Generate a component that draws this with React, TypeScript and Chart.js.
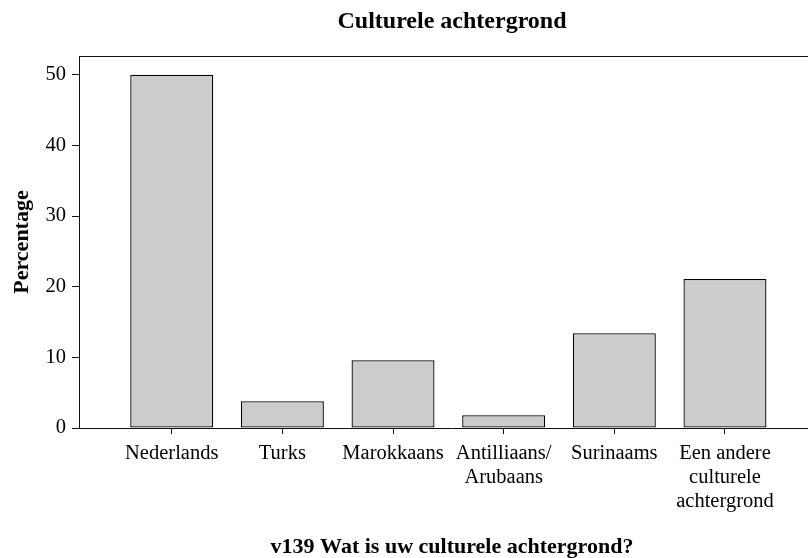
import React, { useEffect, useRef } from "react";
import { Chart, registerables } from "chart.js";

Chart.register(...registerables);

const chartTitle = "Culturele achtergrond";
const xAxisTitle = "v139 Wat is uw culturele achtergrond?";
const yAxisTitle = "Percentage";
const categories = [
  "Nederlands",
  "Turks",
  "Marokkaans",
  "Antilliaans/\nArubaans",
  "Surinaams",
  "Een andere\nculturele\nachtergrond",
];
const percentages = [50.0, 3.8, 9.6, 1.8, 13.4, 21.1];
const yTicks = [0, 10, 20, 30, 40, 50];

const FONT = '"Liberation Serif", "Times New Roman", serif';

const topFramePlugin = {
  id: "topFrame",
  afterDraw(chart: any) {
    const { ctx, chartArea } = chart;
    const y = Math.round(chartArea.top) + 0.5;
    ctx.save();
    ctx.strokeStyle = "#111";
    ctx.lineWidth = 1;
    ctx.beginPath();
    ctx.moveTo(chartArea.left, y);
    ctx.lineTo(chartArea.right, y);
    ctx.stroke();
    ctx.restore();
  },
};

export default function App() {
  const ref = useRef<HTMLCanvasElement | null>(null);

  useEffect(() => {
    if (!ref.current) return;
    const chart = new Chart(ref.current, {
      type: "bar",
      data: {
        datasets: [
          {
            data: percentages.map((v, i) => ({ x: i, y: v })),
            backgroundColor: "#cccccc",
            borderColor: "#000",
            borderWidth: 1.3,
            borderSkipped: false,
            barPercentage: 0.75,
            categoryPercentage: 1,
          },
        ],
      },
      options: {
        animation: false,
        responsive: false,
        layout: { padding: 0 },
        plugins: {
          legend: { display: false },
          tooltip: { enabled: false },
          title: {
            display: true,
            text: chartTitle,
            fullSize: false,
            color: "#000",
            font: { family: FONT, size: 24, weight: "bold", lineHeight: 1.2 },
            padding: { top: 7.5, bottom: 19.7 },
          },
        },
        scales: {
          x: {
            type: "linear",
            offset: false,
            min: -0.838,
            max: 5.904,
            afterFit: (s: any) => {
              s.height = 130;
            },
            afterBuildTicks: (s: any) => {
              s.ticks = categories.map((_, i) => ({ value: i }));
            },
            grid: {
              offset: false,
              drawOnChartArea: false,
              drawTicks: true,
              tickLength: 6,
              color: "#111",
            },
            border: { display: true, color: "#111", width: 1 },
            ticks: {
              autoSkip: false,
              maxRotation: 0,
              minRotation: 0,
              includeBounds: false,
              padding: 8,
              color: "#000",
              font: { family: FONT, size: 20.5, lineHeight: 1.17 },
              callback: (v: any) => {
                const c = categories[Math.round(Number(v))];
                return c === undefined ? "" : c.split("\n");
              },
            },
            title: {
              display: true,
              text: xAxisTitle,
              color: "#000",
              font: { family: FONT, size: 22, weight: "bold", lineHeight: 1 },
              padding: { top: 0, bottom: 0 },
            },
          },
          y: {
            min: 0,
            max: 52.65,
            afterFit: (s: any) => {
              s.width = 79;
            },
            afterBuildTicks: (s: any) => {
              s.ticks = yTicks.map((v) => ({ value: v }));
            },
            grid: {
              drawOnChartArea: false,
              drawTicks: true,
              tickLength: 7,
              color: "#111",
            },
            border: { display: true, color: "#111", width: 1 },
            ticks: {
              includeBounds: false,
              padding: 6,
              color: "#000",
              font: { family: FONT, size: 20.5 },
            },
            title: {
              display: true,
              text: yAxisTitle,
              color: "#000",
              font: { family: FONT, size: 22, weight: "bold", lineHeight: 1.2 },
              padding: { top: 8.7, bottom: 0 },
            },
          },
        },
      },
      plugins: [topFramePlugin],
    } as any);
    return () => chart.destroy();
  }, []);

  return (
    <div
      style={{
        position: "absolute",
        left: 0,
        top: 0,
        width: 808,
        height: 558,
        overflow: "hidden",
        background: "#fff",
      }}
    >
      <canvas ref={ref} width={825} height={558} style={{ display: "block" }} />
    </div>
  );
}
